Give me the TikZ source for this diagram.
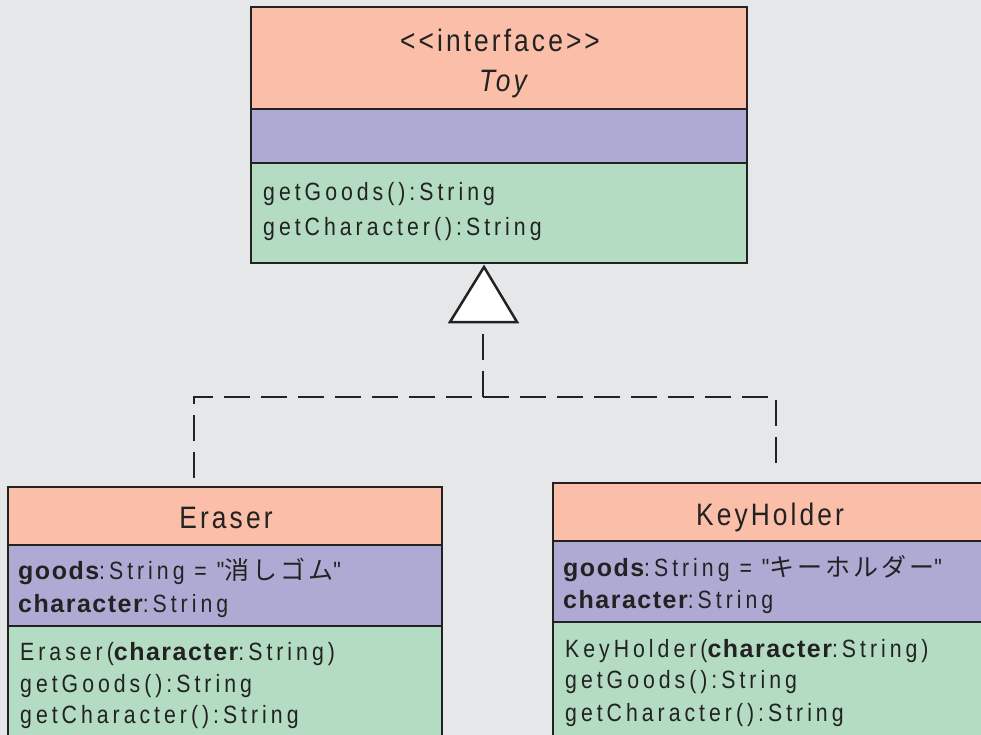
\documentclass[tikz,border=0pt]{standalone}
\usepackage{fontspec}
\setmainfont{Liberation Sans}[FakeStretch=0.85, LetterSpace=16]
\newfontfamily\hfam{Liberation Sans}[FakeStretch=0.85, LetterSpace=10]
\newfontfamily\bfam{Liberation Sans}[LetterSpace=6]
\newfontfamily\qfam{Liberation Sans}[FakeStretch=0.85, LetterSpace=16, Ligatures=TeXOff]
\newfontfamily\jp{Noto Sans CJK JP}[LetterSpace=12]
\usetikzlibrary{arrows.meta,calc}
\definecolor{bg}{HTML}{E6E7E9}
\definecolor{hdr}{HTML}{FBBEA8}
\definecolor{att}{HTML}{AFAAD4}
\definecolor{mth}{HTML}{B3DCC2}
\definecolor{ink}{HTML}{222222}
\newcommand{\bw}[1]{{\bfam\bfseries #1}}
\newcommand{\dq}{{\qfam"}}
\begin{document}
\begin{tikzpicture}[x=1pt,y=-1pt,
  comp/.style={draw=ink, line width=2.5pt, inner sep=0pt, outer sep=0pt, anchor=north west},
  txt/.style={anchor=base west, inner sep=0pt, text=ink, font=\fontsize{25}{30}\selectfont},
  ttl/.style={anchor=base, inner sep=0pt, text=ink, font=\hfam\fontsize{31}{36}\selectfont},
  dl/.style={draw=ink, line width=2.5pt, dash pattern=on 26pt off 11pt}]
\fill[bg] (0,0) rectangle (981,735);
\useasboundingbox (0,0) rectangle (981,735);
% Toy
\node[comp, fill=hdr, minimum width=496pt, minimum height=102pt] (toyH) at (251,7) {};
\node[comp, fill=att, minimum width=496pt, minimum height=54pt] (toyA) at (251,109) {};
\node[comp, fill=mth, minimum width=496pt, minimum height=100pt] (toyM) at (251,163) {};
\node[ttl] (toyS) at (500,52) {<{}<interface>{}>};
\node[ttl] (toyN) at (503,92) {\itshape Toy};
\node[txt] (toy1) at (263,201) {getGoods():String};
\node[txt] (toy2) at (263,236) {getCharacter():String};
% Eraser
\node[comp, fill=hdr, minimum width=434pt, minimum height=58pt] (erH) at (8,487) {};
\node[comp, fill=att, minimum width=434pt, minimum height=81pt] (erA) at (8,545) {};
\node[comp, fill=mth, minimum width=434pt, minimum height=130pt] (erM) at (8,626) {};
\node[ttl] (erN) at (226,528) {Eraser};
\node[txt] (era1) at (18,579) {\bw{goods}:String = \dq{\jp 消しゴム}\dq};
\node[txt] (era2) at (18,612) {\bw{character}:String};
\node[txt] (erm1) at (20,660) {Eraser(\bw{character}:String)};
\node[txt] (erm2) at (20,692) {getGoods():String};
\node[txt] (erm3) at (20,723) {getCharacter():String};
% KeyHolder
\node[comp, fill=hdr, minimum width=440pt, minimum height=58pt] (khH) at (553,483) {};
\node[comp, fill=att, minimum width=440pt, minimum height=81pt] (khA) at (553,541) {};
\node[comp, fill=mth, minimum width=440pt, minimum height=130pt] (khM) at (553,622) {};
\node[ttl] (khN) at (770,525) {KeyHolder};
\node[txt] (kha1) at (563,576) {\bw{goods}:String = \dq{\jp キーホルダー}\dq};
\node[txt] (kha2) at (563,608) {\bw{character}:String};
\node[txt] (khm1) at (565,657) {KeyHolder(\bw{character}:String)};
\node[txt] (khm2) at (565,688) {getGoods():String};
\node[txt] (khm3) at (565,721) {getCharacter():String};
% realization connectors
\coordinate (eTop) at (194,478);
\coordinate (eCor) at (194,397);
\coordinate (kCor) at (776,397);
\coordinate (kTop) at (776,470);
\coordinate (jn) at (483,397);
\draw[dl] (eTop) -- (eCor) -- (kCor) -- (kTop);
\draw[dl] (jn) -- ++(0,-70);
\draw[draw=ink, fill=white, line width=2.5pt, line join=miter]
  ($(jn |- toyM.south)+(1,4)$) -- ++(33,55) -- ++(-67,0) -- cycle;
\end{tikzpicture}
\end{document}
